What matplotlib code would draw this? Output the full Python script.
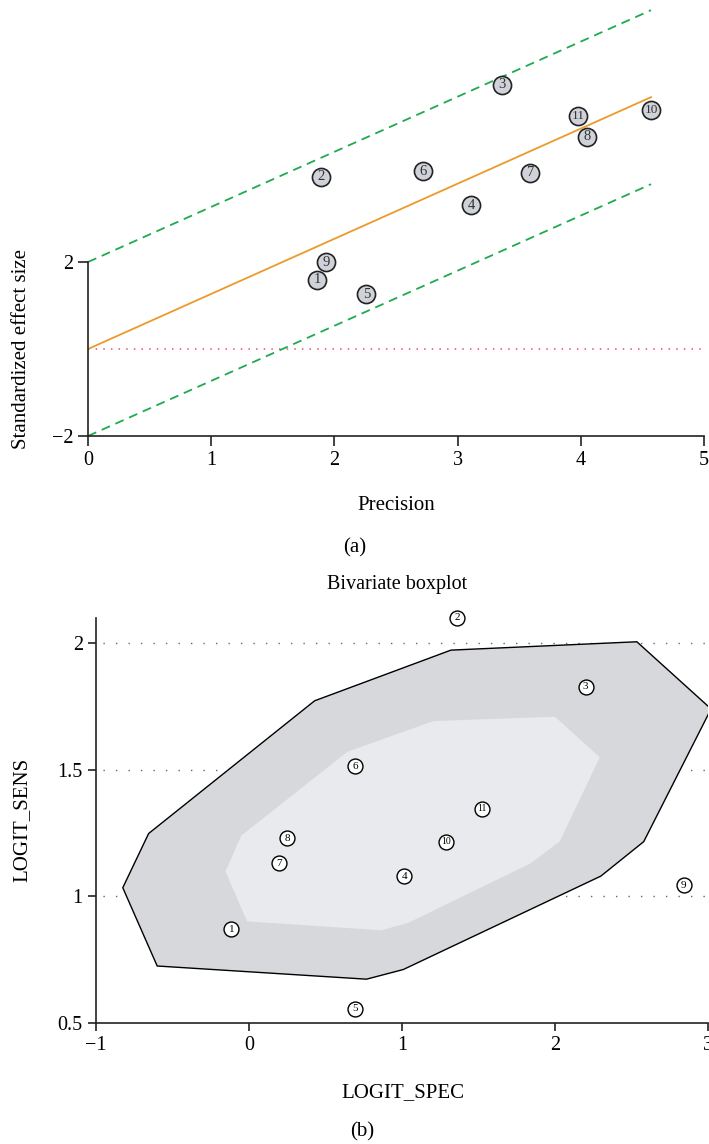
import matplotlib
matplotlib.use("Agg")
import matplotlib.pyplot as plt
import numpy as np
from matplotlib.patches import Polygon

plt.rcParams["font.family"] = ["Liberation Serif", "DejaVu Serif"]

# panel (a): Galbraith plot
study_ids = [str(i) for i in range(1, 12)]
precision = [1.86, 1.89, 3.36, 3.11, 2.26, 2.72, 3.59, 4.05, 1.93, 4.57, 3.98]
std_effect = [1.59, 3.96, 6.07, 3.31, 1.26, 4.09, 4.05, 4.88, 1.99, 5.49, 5.36]
band = 2.0

# panel (b): bivariate boxplot
logit_spec = [-0.115, 1.36, 2.20, 1.016, 0.695, 0.695, 0.195, 0.25, 2.84, 1.285, 1.52]
logit_sens = [0.870, 2.10, 1.827, 1.079, 0.557, 1.514, 1.13, 1.229, 1.044, 1.216, 1.345]
fence_spec = [1.32, 2.535, 3.02, 2.58, 2.30, 1.008, 0.768, -0.60, -0.825, -0.656, 0.429]
fence_sens = [1.972, 2.005, 1.74, 1.216, 1.08, 0.711, 0.673, 0.725, 1.034, 1.248, 1.772]
hinge_spec = [1.206, 2.0, 2.293, 2.03, 1.84, 1.043, 0.866, -0.012, -0.154, -0.05, 0.644]
hinge_sens = [1.692, 1.709, 1.549, 1.216, 1.13, 0.896, 0.866, 0.901, 1.098, 1.24, 1.571]

W, H = 709, 1144
fig = plt.figure(figsize=(W / 100, H / 100), dpi=100)

# ---- (a)
ax = fig.add_axes([88 / W, 1 - 436 / H, 616 / W, 430.6 / H])
ax.set_xlim(0, 5)
ax.set_ylim(-2, 7.9)

x = np.array(precision)
y = np.array(std_effect)
slope = (x * y).sum() / (x * x).sum()
xs = np.array([0, x.max()])
ax.plot(xs, slope * xs, color="#ec9a2a", lw=1.3, zorder=2)
ax.plot(xs, slope * xs + band, color="#1faa4f", lw=1.3, dashes=(5, 3.3), zorder=2)
ax.plot(xs, slope * xs - band, color="#1faa4f", lw=1.3, dashes=(5, 3.3), zorder=2)
ax.plot([0, 5], [0, 0], color="#e8506a", lw=1.1, linestyle=(0, (1, 4)), zorder=1)

ax.scatter(x, y, s=170, facecolor="#cfd2d8", edgecolor="#222222", linewidth=1.2, zorder=3, clip_on=False)
for sid, xi, yi in zip(study_ids, x, y):
    ax.text(xi, yi, sid, ha="center", va="center", fontsize=9.5 if len(sid) > 1 else 10.5,
            color="#333333", zorder=4)

for s in ["top", "right"]:
    ax.spines[s].set_visible(False)
ax.spines["left"].set_bounds(-2, 2)
ax.spines["bottom"].set_bounds(0, 5)
for s in ["left", "bottom"]:
    ax.spines[s].set_linewidth(1.2)
    ax.spines[s].set_color("#222222")
ax.set_xticks([0, 1, 2, 3, 4, 5])
ax.set_yticks([-2, 2])
ax.tick_params(direction="out", length=7, width=1.2, labelsize=14.5, color="#222222")

fig.text(22 / W, 1 - 349 / H, "Standardized effect size", rotation=90, ha="center", va="center", fontsize=15)
fig.text(396 / W, 1 - 505 / H, "Precision", ha="center", va="center", fontsize=15)
fig.text(355 / W, 1 - 548 / H, "(a)", ha="center", va="center", fontsize=15)

# ---- (b)
bx = fig.add_axes([96 / W, 1 - 1023 / H, 612 / W, 405.3 / H])
bx.set_xlim(-1, 3)
bx.set_ylim(0.5, 2.1)

for gy in [1, 1.5, 2]:
    bx.plot([-1, 3], [gy, gy], color="#666666", lw=1, linestyle=(4, (1, 8)), zorder=0)

bx.add_patch(Polygon(np.column_stack([fence_spec, fence_sens]), closed=True,
                     facecolor="#d7d8dc", edgecolor="black", lw=1, zorder=1))
bx.add_patch(Polygon(np.column_stack([hinge_spec, hinge_sens]), closed=True,
                     facecolor="#e9eaee", edgecolor="none", zorder=2))

bx.scatter(logit_spec, logit_sens, s=115, facecolor="white", edgecolor="black", linewidth=1, zorder=3, clip_on=False)
for sid, xi, yi in zip(study_ids, logit_spec, logit_sens):
    bx.text(xi, yi, sid, ha="center", va="center", fontsize=7 if len(sid) > 1 else 8, zorder=4)

for s in ["top", "right"]:
    bx.spines[s].set_visible(False)
for s in ["left", "bottom"]:
    bx.spines[s].set_linewidth(1.2)
    bx.spines[s].set_color("#222222")
bx.set_xticks([-1, 0, 1, 2, 3])
bx.set_yticks([0.5, 1, 1.5, 2])
bx.set_yticklabels(["0.5", "1", "1.5", "2"])
bx.tick_params(direction="out", length=6, width=1.2, labelsize=14.5, color="#222222")

fig.text(397 / W, 1 - 584 / H, "Bivariate boxplot", ha="center", va="center", fontsize=14.5)
fig.text(22 / W, 1 - 820 / H, "LOGIT_SENS", rotation=90, ha="center", va="center", fontsize=15)
fig.text(403 / W, 1 - 1093 / H, "LOGIT_SPEC", ha="center", va="center", fontsize=15)
fig.text(362 / W, 1 - 1132 / H, "(b)", ha="center", va="center", fontsize=15)

fig.savefig("out.png", dpi=100)
